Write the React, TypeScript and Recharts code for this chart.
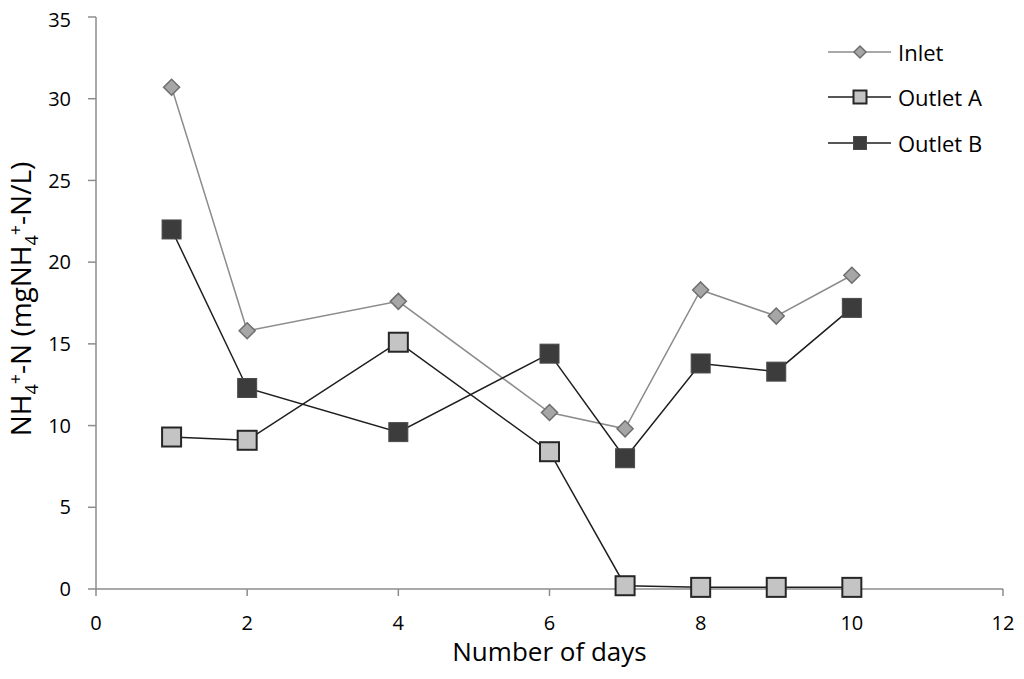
import React from 'react'
import { LineChart, Line, XAxis, YAxis } from 'recharts'

const days = [1, 2, 4, 6, 7, 8, 9, 10]
const inlet = [30.7, 15.8, 17.6, 10.8, 9.8, 18.3, 16.7, 19.2]
const outletA = [9.3, 9.1, 15.1, 8.4, 0.2, 0.1, 0.1, 0.1]
const outletB = [22.0, 12.3, 9.6, 14.4, 8.0, 13.8, 13.3, 17.2]
const xTicks = [0, 2, 4, 6, 8, 10, 12]
const yTicks = [0, 5, 10, 15, 20, 25, 30, 35]

const data = days.map((d, i) => ({ day: d, inlet: inlet[i], outletA: outletA[i], outletB: outletB[i] }))

const FONT = '"Open Sans", sans-serif'
const AXIS = '#8c8c8c'

const Diamond = ({ cx, cy, r = 8 }: { cx: number; cy: number; r?: number }) => (
  <polygon
    points={`${cx},${cy - r} ${cx + r},${cy} ${cx},${cy + r} ${cx - r},${cy}`}
    fill="#a6a6a6"
    stroke="#6e6e6e"
    strokeWidth={1.5}
  />
)

const Square = ({ cx, cy, s, fill, stroke, sw }: { cx: number; cy: number; s: number; fill: string; stroke: string; sw: number }) => (
  <rect x={cx - s / 2} y={cy - s / 2} width={s} height={s} fill={fill} stroke={stroke} strokeWidth={sw} />
)

const series = [
  { key: 'inlet', name: 'Inlet', line: '#8c8c8c' },
  { key: 'outletA', name: 'Outlet A', line: '#1e1e1e' },
  { key: 'outletB', name: 'Outlet B', line: '#1e1e1e' },
]

const marker = (key: string, cx: number, cy: number, small: boolean) => {
  if (key === 'inlet') return <Diamond cx={cx} cy={cy} r={small ? 6 : 8} />
  if (key === 'outletA') return <Square cx={cx} cy={cy} s={small ? 13 : 19} fill="#c4c4c4" stroke="#262626" sw={2} />
  return <Square cx={cx} cy={cy} s={small ? 13 : 19} fill="#3c3c3c" stroke="#4a4a4a" sw={1} />
}

// y title with sub/superscripts, rotated
const YTitle = ({ viewBox }: any) => {
  const x = 23
  const y = viewBox.y + viewBox.height / 2 - 4
  return (
    <text x={x} y={y} transform={`rotate(-90 ${x} ${y})`} textAnchor="middle" fontFamily={FONT} fontSize={28} fill="#000">
      <tspan>NH</tspan>
      <tspan fontSize={18} dy={7}>4</tspan>
      <tspan fontSize={18} dy={-16}>+</tspan>
      <tspan dy={9}>-N (mgNH</tspan>
      <tspan fontSize={18} dy={7}>4</tspan>
      <tspan fontSize={18} dy={-16}>+</tspan>
      <tspan dy={9}>-N/L)</tspan>
    </text>
  )
}

const XTitle = ({ viewBox }: any) => (
  <text x={viewBox.x + viewBox.width / 2} y={viewBox.y + 72} textAnchor="middle" fontFamily={FONT} fontSize={26} fill="#000">
    Number of days
  </text>
)

export default function App() {
  return (
    <div style={{ position: 'relative', width: 1008, height: 660, fontFamily: FONT }}>
      <LineChart width={1008} height={660} data={data} margin={{ top: 9, right: 13, left: 8, bottom: 29 }}>
        <XAxis
          dataKey="day"
          type="number"
          domain={[0, 12]}
          ticks={xTicks}
          stroke={AXIS}
          strokeWidth={1.5}
          tickSize={7}
          tickMargin={20}
          height={50}
          tick={{ fill: '#000', fontSize: 20, fontFamily: FONT }}
          label={<XTitle />}
        />
        <YAxis
          type="number"
          domain={[0, 35]}
          ticks={yTicks}
          stroke={AXIS}
          strokeWidth={1.5}
          tickSize={8}
          tickMargin={17}
          width={80}
          tick={{ fill: '#000', fontSize: 20, fontFamily: FONT }}
          label={<YTitle />}
        />
        {series.map((s) => (
          <Line
            key={s.key}
            dataKey={s.key}
            name={s.name}
            type="linear"
            stroke={s.line}
            strokeWidth={1.5}
            isAnimationActive={false}
            dot={(p: any) => <g key={`${s.key}-${p.index}`}>{marker(s.key, p.cx, p.cy, false)}</g>}
            activeDot={false}
          />
        ))}
      </LineChart>
      <div style={{ position: 'absolute', left: 820, top: 21 }}>
        {series.map((s) => (
          <div key={s.key} style={{ display: 'flex', alignItems: 'center', height: 45.5 }}>
            <svg width={63} height={20} style={{ display: 'block' }}>
              <line x1={0} y1={10} x2={63} y2={10} stroke={s.line} strokeWidth={1.5} />
              {marker(s.key, 32, 10, true)}
            </svg>
            <span style={{ marginLeft: 7, fontSize: 22, color: '#000', lineHeight: 1 }}>{s.name}</span>
          </div>
        ))}
      </div>
    </div>
  )
}
